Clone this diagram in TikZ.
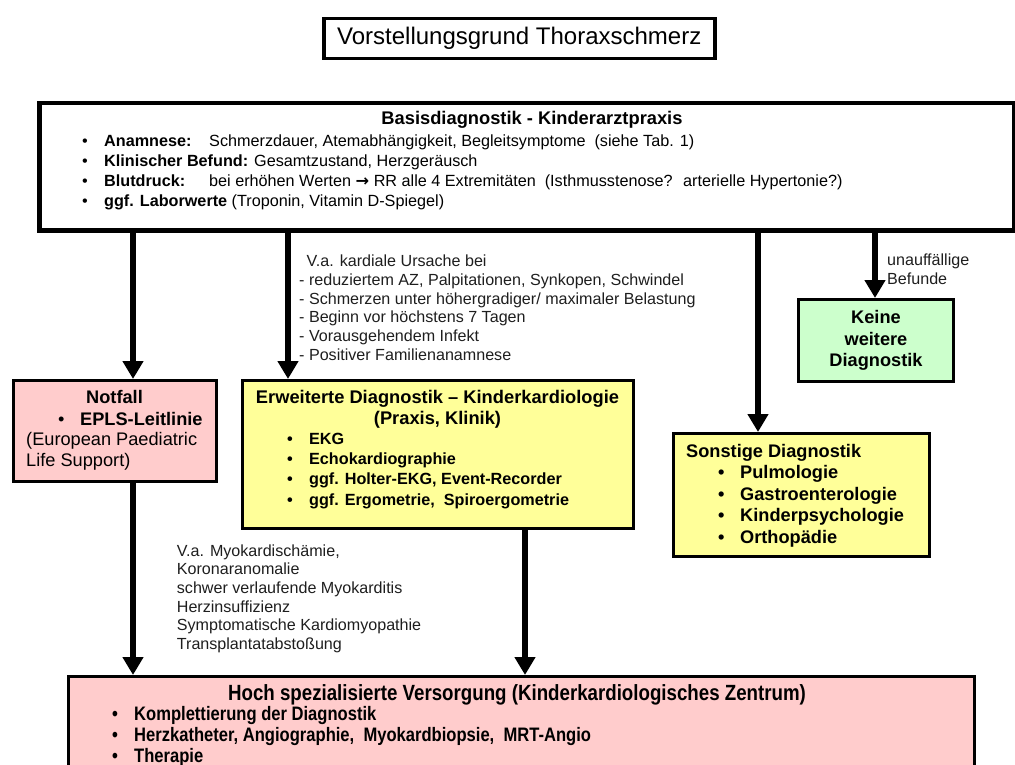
\documentclass[tikz,border=0pt]{standalone}
\usepackage{fontspec}
\setmainfont{Liberation Sans}
\newfontfamily\narrowfont[FakeStretch=0.85]{Liberation Sans}
\newfontfamily\pfeilfont{DejaVu Sans}
\usetikzlibrary{arrows.meta}

\definecolor{rosa}{RGB}{255,204,204}
\definecolor{gelb}{RGB}{255,255,153}
\definecolor{gruen}{RGB}{204,255,204}
\definecolor{schrift}{RGB}{30,30,30}

\newcommand{\itm}[1]{\makebox[22pt][l]{\textbullet}#1}

\begin{document}
\begin{tikzpicture}[x=1pt, y=-1pt,
    box/.style={draw, line width=3pt, anchor=north west, inner sep=0pt},
    arr/.style={line width=6pt, -{Triangle[length=18pt,width=20pt]}},
    txt/.style={anchor=north west, inner sep=0pt, align=left}]
    \useasboundingbox (0,0) rectangle (1015,765);

    \node[box, line width=3.5pt, minimum width=391, minimum height=40,
          font=\fontsize{24}{28}\selectfont] (titel) at (322,17) {Vorstellungsgrund Thoraxschmerz};

    \node[box, line width=4.5pt, fill=white, minimum width=975, minimum height=127] (basis) at (37,101) {};
    \node[font=\bfseries\fontsize{18.3}{21}\selectfont, anchor=base, inner sep=0pt] (basiskopf) at (532,125) {Basisdiagnostik - Kinderarztpraxis};
    \node[txt, font=\fontsize{16.2}{20}\selectfont] (basistxt) at (82,132) {%
        \strut\itm{\makebox[105pt][l]{\bfseries Anamnese:}Schmerzdauer, Atemabhängigkeit, Begleitsymptome~ (siehe Tab. 1)}\\
        \strut\itm{\textbf{Klinischer Befund:} Gesamtzustand, Herzgeräusch}\\
        \strut\itm{\makebox[105pt][l]{\bfseries Blutdruck:}bei erhöhen Werten {\pfeilfont\bfseries →} RR alle 4 Extremitäten~ (Isthmusstenose?~ arterielle Hypertonie?)}\\
        \strut\itm{\textbf{ggf. Laborwerte} (Troponin, Vitamin D-Spiegel)}};

    \node[box, fill=rosa, minimum width=203, minimum height=101] (notfall) at (12,379) {};
    \node[font=\bfseries\fontsize{18.2}{21}\selectfont, anchor=base, inner sep=0pt] (notfallkopf) at (114.5,403) {Notfall};
    \node[txt, font=\fontsize{18.2}{20.7}\selectfont] (notfalltxt) at (26,410.5) {%
        \strut\hspace*{32pt}\itm{\bfseries EPLS-Leitlinie}\\
        \strut(European Paediatric\\
        \strut Life Support)};

    \node[box, fill=gelb, minimum width=391, minimum height=148] (erweitert) at (241,379) {};
    \node[font=\bfseries\fontsize{18.3}{21.5}\selectfont, anchor=north, inner sep=0pt, align=center] (erweitertkopf) at (437.5,388) {%
        \strut Erweiterte Diagnostik – Kinderkardiologie\\
        \strut(Praxis, Klinik)};
    \node[txt, font=\bfseries\fontsize{16.2}{20.2}\selectfont] (erweiterttxt) at (287,430.2) {%
        \strut\itm{EKG}\\
        \strut\itm{Echokardiographie}\\
        \strut\itm{ggf. Holter-EKG, Event-Recorder}\\
        \strut\itm{ggf. Ergometrie,~ Spiroergometrie}};

    \node[box, fill=gruen, minimum width=155, minimum height=82, align=center,
          font=\bfseries\fontsize{18.2}{21.3}\selectfont] (keine) at (797,298) {%
        Keine\\ weitere\\ Diagnostik};

    \node[box, fill=gelb, minimum width=256, minimum height=123] (sonstige) at (672,432) {};
    \node[txt, font=\bfseries\fontsize{18.2}{21.5}\selectfont] (sonstigetxt) at (686,442.2) {%
        \strut Sonstige Diagnostik\\
        \strut\hspace*{32pt}\itm{Pulmologie}\\
        \strut\hspace*{32pt}\itm{Gastroenterologie}\\
        \strut\hspace*{32pt}\itm{Kinderpsychologie}\\
        \strut\hspace*{32pt}\itm{Orthopädie}};

    \node[box, fill=rosa, minimum width=906, minimum height=120] (hoch) at (67,675) {};
    \node[font=\narrowfont\bfseries\fontsize{22}{20}\selectfont, anchor=base, inner sep=0pt] (hochkopf) at (517,700) {Hoch spezialisierte Versorgung (Kinderkardiologisches Zentrum)};
    \node[txt, font=\narrowfont\bfseries\fontsize{19.5}{19.5}\selectfont] (hochtxt) at (112,706.4) {%
        \strut\itm{Komplettierung der Diagnostik}\\
        \strut\itm{Herzkatheter, Angiographie,~ Myokardbiopsie,~ MRT-Angio}\\
        \strut\itm{Therapie}};

    \node[txt, font=\fontsize{16.1}{18.7}\selectfont, text=schrift] (kardial) at (299,253.6) {%
        \strut\hspace*{7.5pt}V.a. kardiale Ursache bei\\
        \strut- reduziertem AZ, Palpitationen, Synkopen, Schwindel\\
        \strut- Schmerzen unter höhergradiger/ maximaler Belastung\\
        \strut- Beginn vor höchstens 7 Tagen\\
        \strut- Vorausgehendem Infekt\\
        \strut- Positiver Familienanamnese};

    \node[txt, font=\fontsize{16.1}{19.3}\selectfont, text=schrift] (unauff) at (887,251.5) {%
        \strut unauffällige\\
        \strut Befunde};

    \node[txt, font=\fontsize{16.1}{18.6}\selectfont, text=schrift] (myokard) at (176.7,543) {%
        \strut V.a. Myokardischämie,\\
        \strut Koronaranomalie\\
        \strut schwer verlaufende Myokarditis\\
        \strut Herzinsuffizienz\\
        \strut Symptomatische Kardiomyopathie\\
        \strut Transplantatabstoßung};

    \coordinate (xa) at (133,0);
    \coordinate (xb) at (288,0);
    \coordinate (xc) at (758,0);
    \coordinate (xd) at (875,0);
    \coordinate (xe) at (525,0);

    \path[draw, arr] (basis.south -| xa) -- (notfall.north -| xa);
    \path[draw, arr] (basis.south -| xb) -- (erweitert.north -| xb);
    \path[draw, arr] (basis.south -| xc) -- (sonstige.north -| xc);
    \path[draw, arr] (basis.south -| xd) -- (keine.north -| xd);
    \path[draw, arr] (notfall.south -| xa) -- (hoch.north -| xa);
    \path[draw, arr] (erweitert.south -| xe) -- (hoch.north -| xe);

\end{tikzpicture}
\end{document}
